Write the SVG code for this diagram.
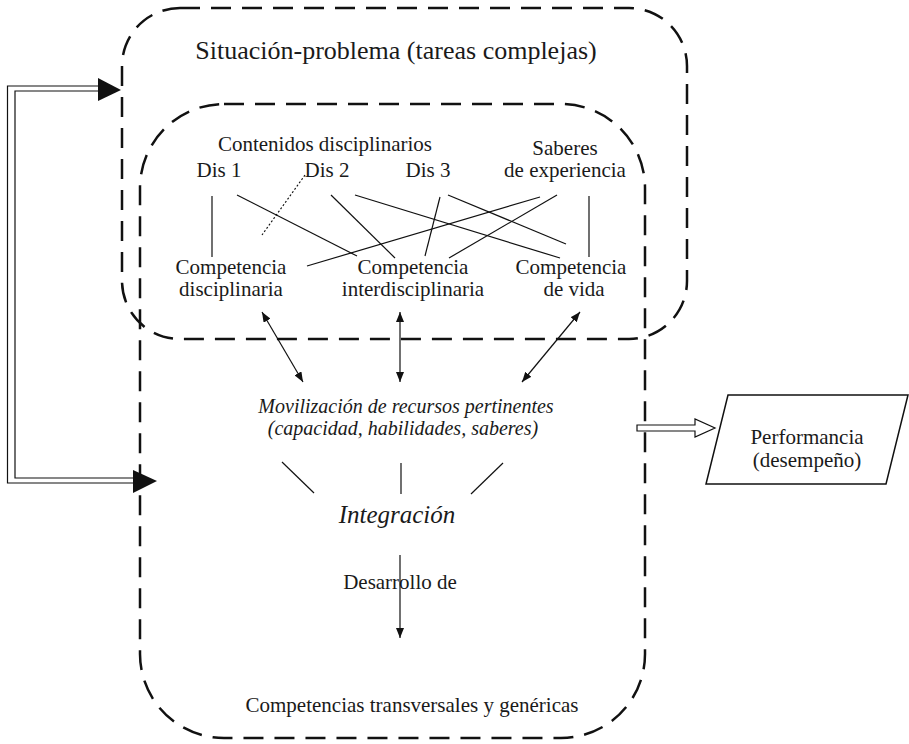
<svg xmlns="http://www.w3.org/2000/svg" width="909" height="744" viewBox="0 0 909 744">
<style>
.box{fill:none;stroke:#111;stroke-width:2.5;stroke-dasharray:20 11}
.ln{stroke:#111;stroke-width:1.2;fill:none}
.dot{stroke:#111;stroke-width:1.2;fill:none;stroke-dasharray:2 2}
text{font-family:'Liberation Serif','DejaVu Serif',serif;fill:#1a1a1a;text-anchor:middle}
.t21{font-size:21px}
.t20{font-size:20px}
.it{font-style:italic}
</style>
<defs>
<marker id="ah" viewBox="0 0 10 8" refX="10" refY="4" markerWidth="10" markerHeight="8" markerUnits="userSpaceOnUse" orient="auto-start-reverse">
<path d="M0,0 L10,4 L0,8 Z" fill="#111"/>
</marker>
</defs>
<rect width="909" height="744" fill="#fff"/>

<g font-family="Liberation Serif, DejaVu Serif, serif">
<g id="situacion-problema">
<rect class="box" x="122" y="8" width="565" height="331" rx="58" ry="58"/>
<text x="396" y="59" font-family="Liberation Serif, serif" style="font-size:26px">Situación-problema (tareas complejas)</text>
</g>

<g id="contenidos-box">
<rect class="box" x="140" y="104" width="505" height="634" rx="84" ry="84"/>
<text class="t21" font-family="Liberation Serif, serif" x="325" y="151">Contenidos disciplinarios</text>
</g>

<g id="dis1"><text class="t21" font-family="Liberation Serif, serif" x="219" y="177">Dis 1</text></g>
<g id="dis2"><text class="t21" font-family="Liberation Serif, serif" x="327" y="177">Dis 2</text></g>
<g id="dis3"><text class="t21" font-family="Liberation Serif, serif" x="428" y="177">Dis 3</text></g>
<g id="saberes"><text class="t21" font-family="Liberation Serif, serif" x="565" y="155">Saberes</text><text class="t21" font-family="Liberation Serif, serif" x="565" y="177">de experiencia</text></g>

<g id="comp-disciplinaria"><text class="t21" font-family="Liberation Serif, serif" x="231" y="274">Competencia</text><text class="t21" font-family="Liberation Serif, serif" x="231" y="296">disciplinaria</text></g>
<g id="comp-interdisciplinaria"><text class="t21" font-family="Liberation Serif, serif" x="413" y="274">Competencia</text><text class="t21" font-family="Liberation Serif, serif" x="413" y="296">interdisciplinaria</text></g>
<g id="comp-vida"><text class="t21" font-family="Liberation Serif, serif" x="571" y="274">Competencia</text><text class="t21" font-family="Liberation Serif, serif" x="574" y="296">de vida</text></g>

<g id="movilizacion">
<text class="t20 it" font-family="Liberation Serif, serif" x="406" y="413">Movilización de recursos pertinentes</text>
<text class="t20 it" font-family="Liberation Serif, serif" x="403" y="435">(capacidad, habilidades, saberes)</text>
</g>

<g id="integracion"><text class="it" font-family="Liberation Serif, serif" style="font-size:25px" x="397" y="523">Integración</text></g>
<g id="desarrollo"><text class="t21" font-family="Liberation Serif, serif" x="400" y="589">Desarrollo de</text></g>
<g id="competencias-transversales"><text class="t21" font-family="Liberation Serif, serif" x="412" y="712">Competencias transversales y genéricas</text></g>

<g id="performancia">
<polygon points="728,395 908,395 886,484 706,484" fill="none" stroke="#111" stroke-width="1.5"/>
<text class="t21" font-family="Liberation Serif, serif" x="807" y="444">Performancia</text>
<text class="t21" font-family="Liberation Serif, serif" x="807" y="467">(desempeño)</text>
</g>
</g>

<g id="connectors">
<line class="ln" x1="212" y1="196" x2="212" y2="257"/>
<line class="ln" x1="237" y1="195" x2="357" y2="256"/>
<line class="dot" x1="305" y1="175" x2="262" y2="235"/>
<line class="ln" x1="331" y1="195" x2="395" y2="258"/>
<line class="ln" x1="355" y1="195" x2="560" y2="258"/>
<line class="ln" x1="440" y1="197" x2="425" y2="256"/>
<line class="ln" x1="448" y1="195" x2="566" y2="244"/>
<line class="ln" x1="540" y1="197" x2="307" y2="266"/>
<line class="ln" x1="557" y1="195" x2="449" y2="258"/>
<line class="ln" x1="589" y1="196" x2="589" y2="257"/>

<line class="ln" x1="262" y1="312" x2="303" y2="382" marker-start="url(#ah)" marker-end="url(#ah)"/>
<line class="ln" x1="400" y1="312" x2="400" y2="382" marker-start="url(#ah)" marker-end="url(#ah)"/>
<line class="ln" x1="580" y1="312" x2="522" y2="382" marker-start="url(#ah)" marker-end="url(#ah)"/>

<line class="ln" x1="282" y1="462" x2="314" y2="493"/>
<line class="ln" x1="401" y1="463" x2="401" y2="494"/>
<line class="ln" x1="503" y1="463" x2="471" y2="494"/>

<line class="ln" x1="400" y1="555" x2="400" y2="638" marker-end="url(#ah)"/>

<polyline class="ln" points="98,86 7.5,86 7.5,483 133,483"/>
<polyline class="ln" points="98,91 15,91 15,478 133,478"/>
<polygon points="98,78 121,90 98,101" fill="#111"/>
<polygon points="133,470 157,481 133,493" fill="#111"/>

<polygon points="637,425 695,425 695,419 715,428 695,437 695,431 637,431" fill="#fff" stroke="#111" stroke-width="1.2"/>
</g>
</svg>
